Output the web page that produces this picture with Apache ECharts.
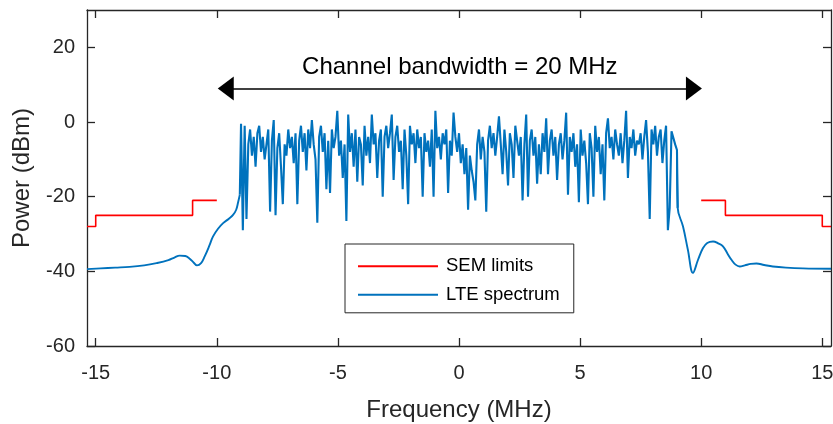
<!DOCTYPE html>
<html>
<head>
<meta charset="utf-8">
<script src="https://cdn.jsdelivr.net/npm/echarts@6/dist/echarts.min.js"></script>
<style>
html,body{margin:0;padding:0;background:#fff;}
#chart{width:833px;height:424px;}
</style>
</head>
<body>
<div id="chart"></div>
<script>
// ---- data ----
const freqTicks = [-15, -10, -5, 0, 5, 10, 15];
const powerTicks = [-60, -40, -20, 0, 20];
const freqRange = [-15.36, 15.36];
const powerRange = [-60, 30];

const semLeftFreq = [-15.36, -15, -15, -11, -11, -10];
const semLeftPower = [-28, -28, -25, -25, -21, -21];
const semRightFreq = [10, 11, 11, 15, 15, 15.36];
const semRightPower = [-21, -21, -25, -25, -28, -28];

const leftTailFreq = [-15.36, -14.8, -14.2, -13.6, -13.0, -12.49, -12.0, -11.75, -11.53, -11.3, -11.12, -10.95, -10.82, -10.65, -10.5, -10.3, -10.16, -9.95, -9.74, -9.5, -9.33, -9.2, -9.12, -9.05];
const leftTailPower = [-39.4, -39.2, -39.0, -38.8, -38.4, -37.8, -37.0, -36.3, -35.8, -35.9, -36.6, -37.7, -38.4, -37.8, -36.0, -33.0, -30.7, -28.6, -27.1, -25.9, -24.9, -23.5, -21.5, -19.5];

const bandStartFreq = -9.0;
const bandStepFreq = 0.075;
const bandPower = [
  -0.5, -29, -1, -26, -6, -2, -9, -4, -12, -3,
  -1, -8, -4, -10, -6, -2, -24, -5, 0.5, -25,
  -7, -3, -12, -22, -6, -9, -2, -7, -4, -11,
  -3, -22, -5, -1, -8, -3, -13, -2, -7, 0.5,
  -6, -10, -27, -4, -1, -8, -3, -18, -5, -19,
  -2, -7, -4, 3, -9, -5, -15, -6, -26.5, 2,
  -8, -3, -12, -2, -16, -4, -6, -17, -1, -9,
  -4, -11, 2, -6, -3, -15, -5, -2, -20, -4,
  -1, -7, -3, 2, -15.5, -4, -1, -8, -5, -18,
  -2, -9, -22, -1, -6, -3, -11, -2, -7, -4,
  -20, -3, -8, -5, -12, -2, -20, 3, -7, -4,
  -10, -3, -6, -2, -19, -5, -9, 2.5, -4, -8,
  -3, -11, -6, -14, -7, -23.5, -9, -13, -16, -21,
  -6, -2, -10, -4, -8, -24, -5, -1, -7, -3,
  -9, -4, 1.5, -6, -14, -2, -8, -17, -3, -6,
  -15, -1, -5, -9, -4, -21, -6, 2, -20, -5,
  -2, -9, -4, -16.5, -6, -14, -3, -8, 1, -14,
  -5, -2, -9, -4, -15.5, -6, -3, -10, -5, 2.5,
  -19.5, -4, -8, -3, -12, -6, -21.5, -2, -9, -5,
  -11, -22, -3, -7, -20, -1, -8, -4, -14, -6,
  -21, -3, 1, -7, -4, -10, -2, -6, -9, -3,
  -11, -5, 3, -15, -4, -7, -2, -9, -5, -6,
  -3, -10, -4, 0.5, -8, -26, -2, -6, -1, -9,
  -4, -2, -11, -5, -1, -29, -23, -2.5, -3, -6,
  -7.5
];

const rightTailFreq = [9.03, 9.25, 9.45, 9.66, 9.87, 10.07, 10.25, 10.49, 10.7, 10.9, 11.1, 11.25, 11.42, 11.59, 11.8, 12.05, 12.28, 12.6, 12.96, 13.5, 14.2, 15.36];
const rightTailPower = [-23, -28, -34.2, -40.4, -36.9, -33.8, -32.4, -32, -32.5, -33.3, -35.4, -36.9, -38.2, -38.7, -38.4, -38.0, -37.9, -38.3, -38.7, -39.0, -39.2, -39.3];

const arrowFreq = [-9.63, 9.70];
const arrowPower = 9;
const annotationText = 'Channel bandwidth = 20 MHz';

// ---- build ----
const pair = (xs, ys) => xs.map((x, i) => [x, ys[i]]);
const bandData = [[leftTailFreq[leftTailFreq.length - 1], leftTailPower[leftTailPower.length - 1]]]
  .concat(bandPower.map((p, i) => [bandStartFreq + i * bandStepFreq, p]))
  .concat([[rightTailFreq[0], rightTailPower[0]]]);

const FONT = 'Liberation Sans';
const TXT = '#262626';
const BLUE = '#0072BD';
const RED = '#FF0000';

const chart = echarts.init(document.getElementById('chart'), null, {renderer: 'canvas'});

const axisCommon = {
  type: 'value',
  axisLine: {show: true, onZero: false, lineStyle: {color: TXT, width: 1.3}},
  axisTick: {show: true, inside: true, length: 8, lineStyle: {color: TXT, width: 1.3}},
  splitLine: {show: false}
};

chart.setOption({
  animation: false,
  backgroundColor: '#fff',
  textStyle: {fontFamily: FONT},
  grid: {left: 87, right: 2, top: 10, bottom: 78, containLabel: false, outerBoundsMode: 'none'},
  legend: {
    data: ['SEM limits', 'LTE spectrum'],
    orient: 'vertical',
    left: 345, top: 244,
    itemWidth: 80, itemHeight: 14, itemGap: 9.6,
    padding: [12.7, 14, 8.5, 12],
    borderColor: TXT, borderWidth: 1,
    backgroundColor: '#fff',
    itemStyle: {opacity: 0},
    textStyle: {fontFamily: FONT, fontSize: 18.5, color: '#000', padding: [0, 0, 0, 3]}
  },
  xAxis: [
    Object.assign({}, axisCommon, {
      min: freqRange[0], max: freqRange[1], position: 'bottom',
      name: 'Frequency (MHz)', nameLocation: 'middle', nameGap: 52,
      nameTextStyle: {fontFamily: FONT, fontSize: 24, color: TXT},
      axisTick: Object.assign({}, axisCommon.axisTick, {customValues: freqTicks}),
      axisLabel: {customValues: freqTicks, fontFamily: FONT, fontSize: 20, color: TXT, margin: 17}
    }),
    Object.assign({}, axisCommon, {
      min: freqRange[0], max: freqRange[1], position: 'top',
      axisTick: Object.assign({}, axisCommon.axisTick, {customValues: freqTicks}),
      axisLabel: {show: false}
    })
  ],
  yAxis: [
    Object.assign({}, axisCommon, {
      min: powerRange[0], max: powerRange[1], position: 'left',
      name: 'Power (dBm)', nameLocation: 'middle', nameGap: 53,
      nameTextStyle: {fontFamily: FONT, fontSize: 24, color: TXT},
      axisTick: Object.assign({}, axisCommon.axisTick, {customValues: powerTicks}),
      axisLabel: {customValues: powerTicks, fontFamily: FONT, fontSize: 20, color: TXT, margin: 12}
    }),
    Object.assign({}, axisCommon, {
      min: powerRange[0], max: powerRange[1], position: 'right',
      axisTick: Object.assign({}, axisCommon.axisTick, {customValues: powerTicks}),
      axisLabel: {show: false}
    })
  ],
  series: [
    {
      name: 'LTE spectrum', type: 'line', symbol: 'none', smooth: 0.4,
      lineStyle: {color: BLUE, width: 1.9}, itemStyle: {color: BLUE},
      data: pair(leftTailFreq, leftTailPower)
    },
    {
      name: 'LTE spectrum', type: 'line', symbol: 'none',
      lineStyle: {color: BLUE, width: 2.1}, itemStyle: {color: BLUE},
      data: bandData,
      markLine: {
        silent: true,
        symbol: ['triangle', 'triangle'],
        symbolSize: [24, 16],
        lineStyle: {color: '#000', width: 1.5, type: 'solid'},
        itemStyle: {color: '#000'},
        label: {show: true, position: 'middle', formatter: annotationText, fontFamily: FONT, fontSize: 24, color: '#000', distance: 9},
        data: [[{coord: [arrowFreq[0], arrowPower]}, {coord: [arrowFreq[1], arrowPower]}]]
      }
    },
    {
      name: 'LTE spectrum', type: 'line', symbol: 'none', smooth: 0.4,
      lineStyle: {color: BLUE, width: 1.9}, itemStyle: {color: BLUE},
      data: [bandData[bandData.length - 2]].concat(pair(rightTailFreq, rightTailPower))
    },
    {
      name: 'SEM limits', type: 'line', symbol: 'none',
      lineStyle: {color: RED, width: 1.6}, itemStyle: {color: RED},
      data: pair(semLeftFreq, semLeftPower)
    },
    {
      name: 'SEM limits', type: 'line', symbol: 'none',
      lineStyle: {color: RED, width: 1.6}, itemStyle: {color: RED},
      data: pair(semRightFreq, semRightPower)
    }
  ]
});
</script>
</body>
</html>
